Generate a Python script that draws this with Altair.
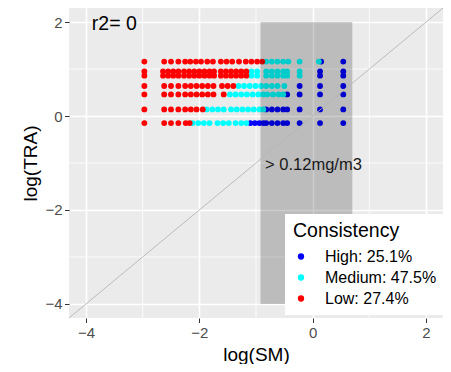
import altair as alt
import pandas as pd

# ---- data ----
row_y = [1.16, 0.95, 0.86, 0.64, 0.46, 0.14, -0.15]

low_x = [
    [-2.97, -2.62, -2.50, -2.37, -2.25, -2.16, -2.06, -1.97, -1.86, -1.76, -1.62, -1.52, -1.42, -1.30, -1.18, -1.08, -0.98, -0.89],
    [-2.97, -2.64, -2.55, -2.46, -2.37, -2.27, -2.18, -2.09, -2.00, -1.91, -1.82, -1.74, -1.62, -1.53, -1.44, -1.35, -1.26, -1.17],
    [-2.97, -2.64, -2.55, -2.46, -2.37, -2.27, -2.18, -2.09, -2.00, -1.91, -1.82, -1.74, -1.62, -1.53, -1.44, -1.35, -1.26, -1.17],
    [-2.97, -2.62, -2.50, -2.37, -2.25, -2.15, -2.05, -1.95, -1.85, -1.75, -1.60, -1.50, -1.40],
    [-2.97, -2.62, -2.50, -2.37, -2.25, -2.15, -2.05, -1.95, -1.85, -1.75, -1.57],
    [-2.97, -2.62, -2.50, -2.37, -2.25, -2.15, -2.05, -1.94],
    [-2.97, -2.62, -2.50, -2.37, -2.24, -2.17],
]
medium_x = [
    [-0.82, -0.72, -0.62, -0.52, -0.43, -0.23, 0.11],
    [-1.08, -0.98, -0.82, -0.72, -0.62, -0.52, -0.45, -0.23],
    [-1.08, -0.98, -0.82, -0.72, -0.62, -0.52, -0.45, -0.23],
    [-1.31, -1.21, -1.11, -1.01, -0.91, -0.82, -0.72, -0.62, -0.50],
    [-1.46, -1.36, -1.26, -1.16, -1.06, -0.96, -0.87, -0.80, -0.70, -0.60, -0.52],
    [-1.87, -1.77, -1.67, -1.57, -1.44, -1.34, -1.24, -1.14, -1.04, -0.94, -0.87],
    [-2.12, -2.02, -1.92, -1.82, -1.68, -1.58, -1.48, -1.36, -1.26, -1.17],
]
high_x = [
    [0.15, 0.54],
    [0.13, 0.54],
    [0.13, 0.54],
    [-0.23, 0.13, 0.54],
    [-0.45, -0.23, 0.13, 0.54],
    [-0.82, -0.72, -0.62, -0.52, -0.45, -0.23, 0.13, 0.54],
    [-1.10, -1.02, -0.94, -0.87, -0.82, -0.72, -0.62, -0.52, -0.45, -0.23, 0.13, 0.54],
]
labels = ["High: 25.1%", "Medium: 47.5%", "Low: 27.4%"]
colors = ["#0000ff", "#00ffff", "#ff0000"]

rect_x = [-0.92, 0.70]
rect_y = [-4, 2]
abline = [-4.3, 2.3]
major_ticks = [-4, -2, 0, 2]
minor_ticks = [-3, -1, 1]
domain = [-4.3, 2.3]

recs = []
for lab, xs_rows in zip(labels, [high_x, medium_x, low_x]):
    for yv, xs in zip(row_y, xs_rows):
        for xv in xs:
            recs.append({"x": xv, "y": yv, "cat": lab})
pts = pd.DataFrame(recs)

axis_common = dict(
    values=major_ticks, grid=True, gridColor="white", gridWidth=1.6,
    domain=False, tickColor="#333333", tickSize=4.5, tickWidth=1,
    labelFontSize=15, labelColor="#4d4d4d", labelFont="Liberation Sans",
    titleFontSize=19, titleFontWeight="normal", titleColor="black",
    titleFont="Liberation Sans", labelPadding=2.5,
)
xaxis = alt.Axis(title="log(SM)", titlePadding=5, **axis_common)
yaxis = alt.Axis(title="log(TRA)", titlePadding=4, **axis_common)
xs = alt.Scale(domain=domain, nice=False, zero=False)
ys = alt.Scale(domain=domain, nice=False, zero=False)


def X(f):
    return alt.X(f, type="quantitative", scale=xs, axis=xaxis)


def Y(f):
    return alt.Y(f, type="quantitative", scale=ys, axis=yaxis)


minor_df = pd.DataFrame({"x": minor_ticks, "y": minor_ticks})
minor_v = alt.Chart(minor_df).mark_rule(color="white", strokeWidth=0.8).encode(x=X("x"))
minor_h = alt.Chart(minor_df).mark_rule(color="white", strokeWidth=0.8).encode(y=Y("y"))

points = alt.Chart(pts).mark_circle(size=34, opacity=1).encode(
    x=X("x"), y=Y("y"),
    color=alt.Color("cat:N", scale=alt.Scale(domain=labels, range=colors),
                    legend=alt.Legend(
                        title="Consistency", orient="none", legendX=216, legendY=206,
                        fillColor="white", padding=8, titleFontSize=19.5,
                        titleFontWeight="normal", titleColor="black",
                        titleFont="Liberation Sans", labelFont="Liberation Sans",
                        labelFontSize=16, labelColor="black", symbolType="circle",
                        symbolSize=40, symbolStrokeWidth=0, rowPadding=5,
                        titlePadding=7, symbolOffset=0, labelOffset=16)),
)

rect_df = pd.DataFrame({"x": [rect_x[0]], "x2": [rect_x[1]], "y": [rect_y[0]], "y2": [rect_y[1]]})
rect = alt.Chart(rect_df).mark_rect(color="black", opacity=0.2).encode(
    x=X("x"), x2="x2", y=Y("y"), y2="y2")

ab_df = pd.DataFrame({"x": abline, "y": abline})
diag = alt.Chart(ab_df).mark_line(color="#b5b5b5", strokeWidth=0.9, clip=True).encode(x=X("x"), y=Y("y"))

r2_df = pd.DataFrame({"x": [-3.5], "y": [1.97], "t": ["r2= 0"]})
r2 = alt.Chart(r2_df).mark_text(fontSize=19.5, font="Liberation Sans", color="black",
                                align="center", baseline="middle").encode(x=X("x"), y=Y("y"), text="t:N")

th_df = pd.DataFrame({"x": [-0.84], "y": [-1.05], "t": ["> 0.12mg/m3"]})
th = alt.Chart(th_df).mark_text(fontSize=16.5, font="Liberation Sans", color="#1a1a1a",
                                align="left", baseline="middle").encode(x=X("x"), y=Y("y"), text="t:N")

chart = alt.layer(minor_v, minor_h, points, rect, diag, r2, th).properties(
    width=374, height=310,
    autosize=alt.AutoSizeParams(type="none"),
    padding={"left": 61, "top": 0, "right": 0, "bottom": 46},
).configure_view(fill="#ebebeb", stroke=None)

chart.save("out.html", embed_options={"renderer": "svg", "actions": False})
